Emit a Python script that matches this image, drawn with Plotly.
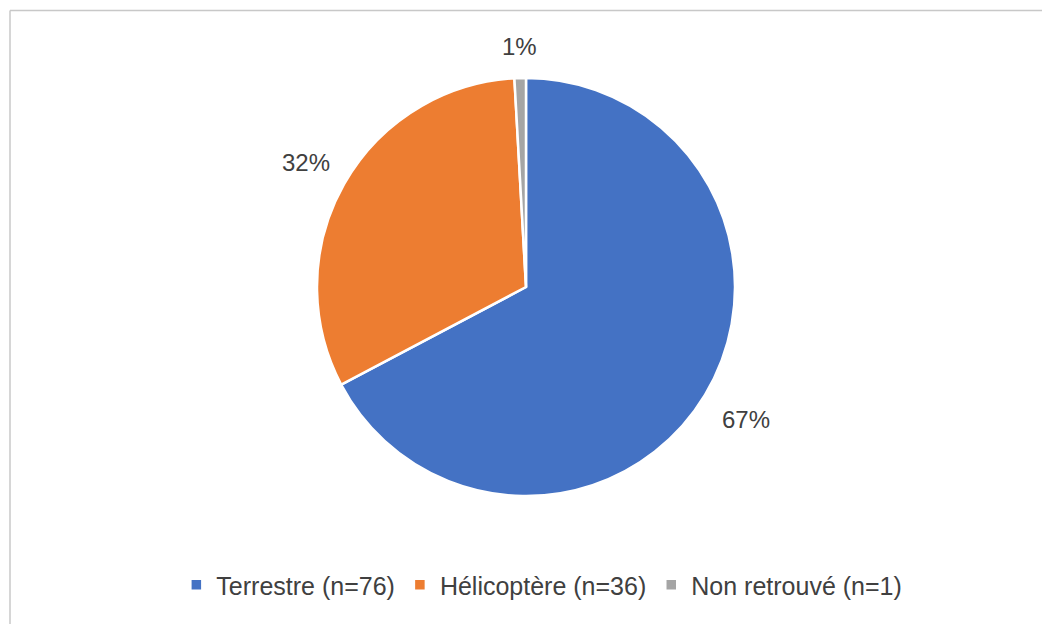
import math
import plotly.graph_objects as go

labels = ["Terrestre (n=76)", "Hélicoptère (n=36)", "Non retrouvé (n=1)"]
values = [76, 36, 1]
colors = ["#4472C4", "#ED7D31", "#A5A5A5"]

W, H = 1042, 624
cx, cy, r = 526, 287, 209  # pixel layout of the pie
FONT = "Liberation Sans, Arial, Helvetica"
TXT = "#404040"

fig = go.Figure(go.Pie(
    labels=labels, values=values, sort=False, direction="clockwise", rotation=0,
    marker=dict(colors=colors, line=dict(color="white", width=2.5)),
    textinfo="none", hoverinfo="label+percent",
    domain=dict(x=[(cx - r) / W, (cx + r) / W], y=[1 - (cy + r) / H, 1 - (cy - r) / H]),
))

total = sum(values)
ann = []
start = 0.0
factors = [1.23, 1.21, 1.15]
for v, f in zip(values, factors):
    mid = (start + v / 2) / total * 2 * math.pi
    start += v
    px = cx + f * r * math.sin(mid)
    py = cy - f * r * math.cos(mid)
    ann.append(dict(x=px / W, y=1 - py / H, xref="paper", yref="paper",
                    xanchor="center", yanchor="middle",
                    text=f"{round(v / total * 100)}%", showarrow=False,
                    font=dict(size=24, color=TXT, family=FONT)))

fig.update_layout(
    width=W, height=H, margin=dict(l=0, r=0, t=0, b=0),
    paper_bgcolor="white", plot_bgcolor="white",
    font=dict(family=FONT, size=24, color=TXT),
    showlegend=True,
    legend=dict(orientation="h", x=0.52, xanchor="center", y=1 - 585 / H, yanchor="middle",
                font=dict(size=25, color=TXT), itemwidth=30, traceorder="normal"),
    annotations=ann,
    shapes=[
        dict(type="line", xref="paper", yref="paper", x0=10 / W, x1=1, y0=1 - 10.5 / H, y1=1 - 10.5 / H,
             line=dict(color="#C8C8C8", width=1.5)),
        dict(type="line", xref="paper", yref="paper", x0=10 / W, x1=10 / W, y0=0, y1=1 - 10.5 / H,
             line=dict(color="#C8C8C8", width=1.5)),
    ],
)

fig.write_html("out.html", config={"displayModeBar": False},
               post_script="document.body.style.margin='0px';")
